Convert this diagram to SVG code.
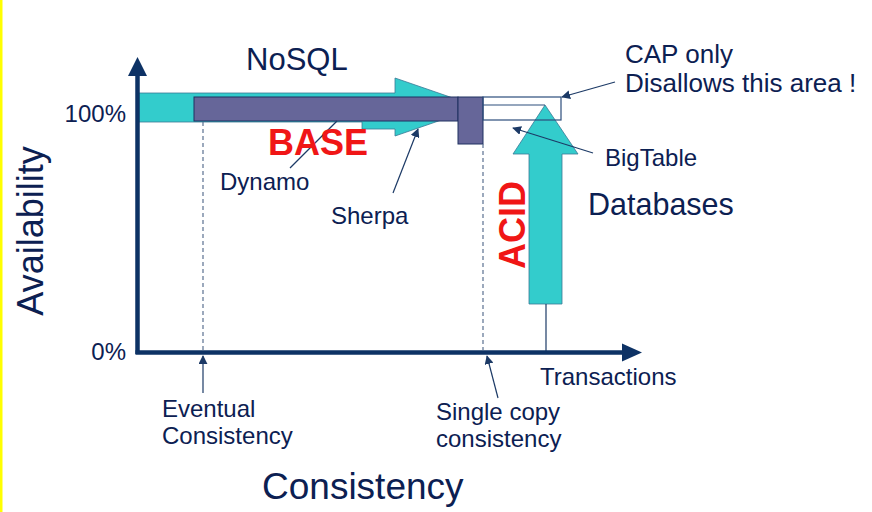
<svg xmlns="http://www.w3.org/2000/svg" width="872" height="512" viewBox="0 0 872 512">
<defs>
<style>
.t{font-family:"Liberation Sans",Arial,sans-serif;fill:#0c2052}
.s{font-size:24px}
.r{font-family:"Liberation Sans",Arial,sans-serif;font-weight:bold;font-size:36px;fill:#f01616}
.cy{fill:#33cccc;stroke:#3a7896;stroke-width:0.8}
.pu{fill:#666699;stroke:#1f3060;stroke-width:1}
.ln{stroke:#1c3a66;stroke-width:1.2;fill:none}
.dash{stroke:#5a7090;stroke-width:1.2;stroke-dasharray:4 3;fill:none}
.ax{stroke:#0d3265;stroke-width:4.5;fill:none}
</style>
<marker id="ah" viewBox="0 0 10 10" refX="9" refY="5" markerWidth="9" markerHeight="9" markerUnits="userSpaceOnUse" orient="auto">
<path d="M0,0 L10,5 L0,10 z" fill="#1c3a66"/>
</marker>
</defs>
<rect x="0" y="0" width="872" height="512" fill="#ffffff"/>
<rect x="0" y="0" width="2.5" height="512" fill="#ffff00"/>

<g id="nosql-arrow">
<polygon class="cy" points="138,93 395,93 395,78 479,107 395,136 395,129 362,129 362,122 138,122"/>
</g>
<g id="base-bar">
<rect class="pu" x="194" y="97" width="264" height="24"/>
<rect class="pu" x="458" y="97" width="25" height="47"/>
</g>
<g id="acid-arrow">
<polygon class="cy" points="545,105 578,154 562,154 562,304 529,304 529,154 513,154"/>
<line class="ln" x1="546" y1="304" x2="546" y2="352"/>
</g>
<g id="cap-area">
<rect x="483" y="97" width="78" height="23" fill="none" stroke="#2c4e7c" stroke-width="1.2"/>
<line x1="483" y1="105" x2="545" y2="105" stroke="#2c4e7c" stroke-width="1.2"/>
</g>

<g id="axes">
<line class="ax" x1="137.5" y1="72" x2="137.5" y2="354"/>
<polygon points="137.5,57 128,76 147,76" fill="#0d3265"/>
<line class="ax" x1="135.5" y1="352.5" x2="626" y2="352.5"/>
<polygon points="642,352.5 622,343.5 622,361.5" fill="#0d3265"/>
</g>

<g id="connectors">
<line class="dash" x1="203" y1="122" x2="203" y2="350"/>
<line class="dash" x1="483" y1="144" x2="483" y2="350"/>
<line class="ln" x1="290" y1="168" x2="337" y2="121"/>
<line class="ln" x1="393" y1="193" x2="418" y2="129" marker-end="url(#ah)"/>
<line class="ln" x1="593" y1="153" x2="513" y2="128" marker-end="url(#ah)"/>
<line class="ln" x1="615" y1="82" x2="562" y2="97" marker-end="url(#ah)"/>
<line class="ln" x1="203" y1="393" x2="203" y2="356" marker-end="url(#ah)"/>
<line class="ln" x1="498" y1="398" x2="487" y2="356" marker-end="url(#ah)"/>
</g>

<g id="labels">
<text class="t" x="246" y="70" font-size="31">NoSQL</text>
<text class="t" x="625" y="63" font-size="26">CAP only</text>
<text class="t" x="625" y="92" font-size="26">Disallows this area !</text>
<text class="t s" x="126" y="122" text-anchor="end">100%</text>
<text class="t s" x="126" y="360" text-anchor="end">0%</text>
<text class="t" font-size="36" text-anchor="middle" transform="translate(43,231) rotate(-90)">Availability</text>
<text class="r" x="268" y="155">BASE</text>
<text class="r" text-anchor="middle" transform="translate(525,225) rotate(-90)">ACID</text>
<text class="t s" x="220" y="190">Dynamo</text>
<text class="t s" x="331" y="224">Sherpa</text>
<text class="t s" x="605" y="166">BigTable</text>
<text class="t" x="588" y="215" font-size="30.5">Databases</text>
<text class="t s" x="540" y="385">Transactions</text>
<text class="t s" x="162" y="417">Eventual</text>
<text class="t s" x="162" y="444">Consistency</text>
<text class="t s" x="436" y="420">Single copy</text>
<text class="t s" x="436" y="447">consistency</text>
<text class="t" x="262" y="499" font-size="37">Consistency</text>
</g>
</svg>
